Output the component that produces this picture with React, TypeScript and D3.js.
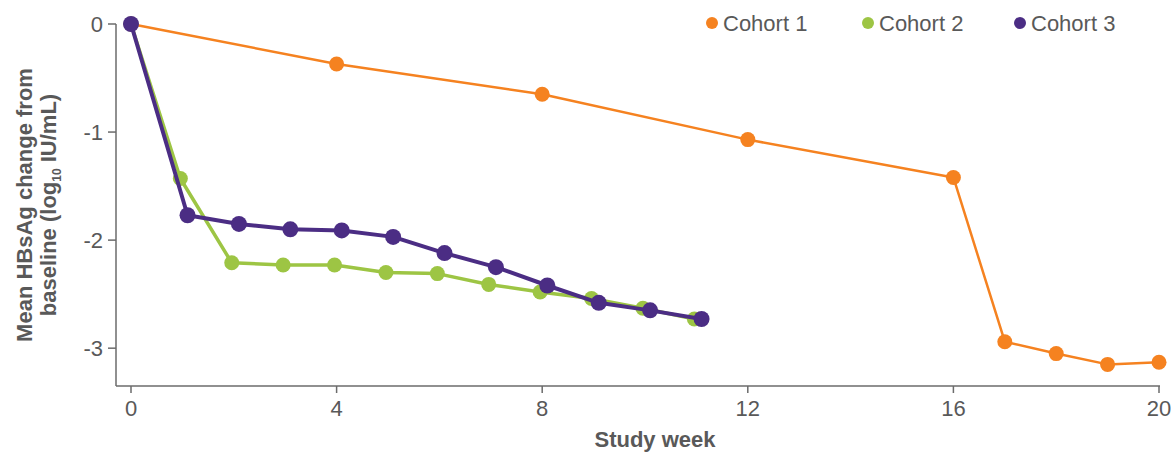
import React, { useEffect, useRef } from 'react';
import * as d3 from 'd3';

const weeks1 = [0, 4, 8, 12, 16, 17, 18, 19, 20];
const cohort1 = [0, -0.37, -0.65, -1.07, -1.42, -2.94, -3.05, -3.15, -3.13];

const weeks23 = [0, 1, 2, 3, 4, 5, 6, 7, 8, 9, 10, 11];
const cohort2 = [0, -1.43, -2.21, -2.23, -2.23, -2.3, -2.31, -2.41, -2.48, -2.54, -2.63, -2.73];
const cohort3 = [0, -1.77, -1.85, -1.9, -1.91, -1.97, -2.12, -2.25, -2.42, -2.58, -2.65, -2.73];

const xTicks = [0, 4, 8, 12, 16, 20];
const yTicks = [0, -1, -2, -3];

const FONT = "'Liberation Sans', Arial, sans-serif";
const TEXT = '#595959';
const AXIS = '#6b6b6b';
const FS = '22px';

const App = () => {
  const svgRef = useRef<SVGSVGElement>(null);

  useEffect(() => {
    const svg = d3.select(svgRef.current);
    svg.selectAll('*').remove();

    const x = d3.scaleLinear().domain([0, 20]).range([131, 1159]);
    const y = d3.scaleLinear().domain([-3.35, 0]).range([386, 24]);

    // axes
    const gx = svg.append('g').attr('transform', 'translate(0,386)');
    gx.append('line').attr('x1', 116).attr('x2', 1160).attr('stroke', AXIS).attr('stroke-width', 1.5);
    xTicks.forEach(t => {
      gx.append('line').attr('x1', x(t)).attr('x2', x(t)).attr('y1', 0).attr('y2', 7).attr('stroke', AXIS).attr('stroke-width', 1.5);
      gx.append('text').attr('x', x(t)).attr('y', 30).attr('text-anchor', 'middle')
        .style('font-family', FONT).style('font-size', FS).attr('fill', TEXT).text(t);
    });

    const gy = svg.append('g').attr('transform', 'translate(116,0)');
    gy.append('line').attr('y1', y(0)).attr('y2', 386).attr('stroke', AXIS).attr('stroke-width', 1.5);
    yTicks.forEach(t => {
      gy.append('line').attr('x1', -8).attr('x2', 0).attr('y1', y(t)).attr('y2', y(t)).attr('stroke', AXIS).attr('stroke-width', 1.5);
      gy.append('text').attr('x', -13).attr('y', y(t)).attr('dy', '0.35em').attr('text-anchor', 'end')
        .style('font-family', FONT).style('font-size', FS).attr('fill', TEXT).text(t);
    });

    svg.append('text').attr('x', 655).attr('y', 447).attr('text-anchor', 'middle')
      .style('font-family', FONT).style('font-size', FS).style('font-weight', 'bold').attr('fill', TEXT)
      .text('Study week');

    const yl = svg.append('text').attr('transform', 'translate(0,205) rotate(-90)').attr('text-anchor', 'middle')
      .style('font-family', FONT).style('font-size', FS).style('font-weight', 'bold').attr('fill', TEXT);
    yl.append('tspan').attr('x', 0).attr('y', 32).text('Mean HBsAg change from');
    const l2 = yl.append('tspan').attr('x', 0).attr('y', 56).text('baseline (log');
    l2.append('tspan').attr('dy', 5).style('font-size', '12px').text('10');
    l2.append('tspan').attr('dy', -5).text(' IU/mL)');

    const series = [
      { weeks: weeks1, values: cohort1, color: '#f58220', width: 2.5, r: 7.5, dx: 0 },
      { weeks: weeks23, values: cohort2, color: '#9dc544', width: 3.5, r: 7.5, dx: -0.04 },
      { weeks: weeks23, values: cohort3, color: '#4b2d84', width: 4, r: 8, dx: 0.1 },
    ];

    const line = d3.line<[number, number]>().x(d => x(d[0])).y(d => y(d[1]));

    series.forEach(s => {
      const pts: [number, number][] = s.weeks.map((w, i) => [w === 0 ? 0 : w + s.dx, s.values[i]]);
      svg.append('path').datum(pts).attr('d', line).attr('fill', 'none')
        .attr('stroke', s.color).attr('stroke-width', s.width).attr('stroke-linejoin', 'round');
      svg.append('g').selectAll('circle').data(pts).enter().append('circle')
        .attr('cx', d => x(d[0])).attr('cy', d => y(d[1])).attr('r', s.r).attr('fill', s.color);
    });

    // legend
    const legend = [
      { label: 'Cohort 1', color: '#f58220', x: 712 },
      { label: 'Cohort 2', color: '#9dc544', x: 868 },
      { label: 'Cohort 3', color: '#4b2d84', x: 1020 },
    ];
    legend.forEach(l => {
      svg.append('circle').attr('cx', l.x).attr('cy', 23).attr('r', 6).attr('fill', l.color);
      svg.append('text').attr('x', l.x + 11).attr('y', 23).attr('dy', '0.35em')
        .style('font-family', FONT).style('font-size', FS).attr('fill', TEXT).text(l.label);
    });
  }, []);

  return (
    <svg ref={svgRef} width={1176} height={452}
      style={{ position: 'absolute', left: 0, top: 0, background: '#fff' }} />
  );
};

export default App;
